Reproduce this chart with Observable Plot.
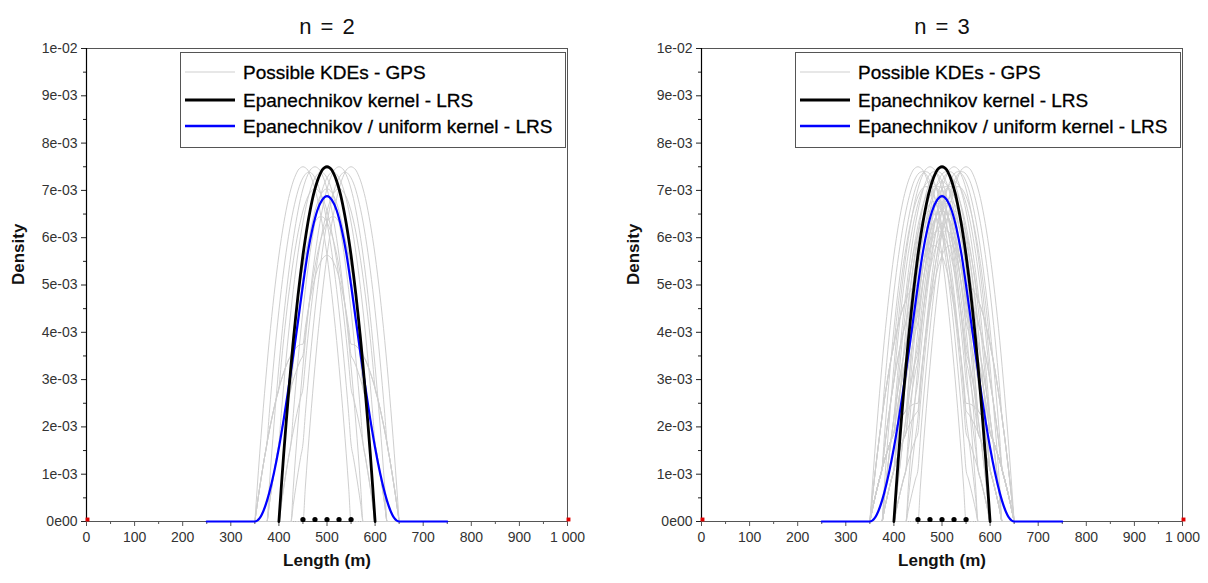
<!DOCTYPE html>
<html>
<head>
<meta charset="utf-8">
<script src="https://cdn.jsdelivr.net/npm/d3@7"></script>
<script src="https://cdn.jsdelivr.net/npm/@observablehq/plot@0.6"></script>
<style>
  html, body { margin: 0; padding: 0; background: #fff; }
  #wrap { display: flex; width: 1208px; height: 583px; }
  svg { font-family: "Liberation Sans", Arial, sans-serif; }
</style>
</head>
<body>
<div id="wrap"></div>
<script>
// ---- data ----
// GPS positions (black dots on the baseline), metres
const gpsPositions = [450, 475, 500, 525, 550];
// LRS length
const lrsLength = 500;
// Epanechnikov kernel profile (black curve), density vs |offset| from centre, offsets 0..100 step 5
const kernelOffsets = [0, 5, 10, 15, 20, 25, 30, 35, 40, 45, 50, 55, 60, 65, 70, 75, 80, 85, 90, 95, 100];
const kernelDensity = [7.50e-3, 7.48e-3, 7.43e-3, 7.33e-3, 7.20e-3, 7.03e-3, 6.83e-3, 6.58e-3, 6.30e-3, 5.98e-3,
                       5.63e-3, 5.23e-3, 4.80e-3, 4.33e-3, 3.83e-3, 3.28e-3, 2.70e-3, 2.08e-3, 1.43e-3, 0.73e-3, 0];
// Epanechnikov / uniform kernel profile (blue curve), offsets 0..150 step 10
const blueOffsets = [0, 10, 20, 30, 40, 50, 60, 70, 80, 90, 100, 110, 120, 130, 140, 150];
const blueDensity = [6.88e-3, 6.80e-3, 6.58e-3, 6.20e-3, 5.68e-3, 5.00e-3, 4.25e-3, 3.52e-3, 2.82e-3, 2.16e-3,
                     1.56e-3, 1.04e-3, 0.61e-3, 0.28e-3, 0.07e-3, 0];
const blueRange = [250, 750];
// panels
const panelN = [2, 3];
// axis ticks
const xTicks = [0, 100, 200, 300, 400, 500, 600, 700, 800, 900, 1000];
const xTickLabels = ["0", "100", "200", "300", "400", "500", "600", "700", "800", "900", "1 000"];
const xMinorTicks = [50, 150, 250, 350, 450, 550, 650, 750, 850, 950];
const yTicks = [0, 0.001, 0.002, 0.003, 0.004, 0.005, 0.006, 0.007, 0.008, 0.009, 0.01];
const yTickLabels = ["0e00", "1e-03", "2e-03", "3e-03", "4e-03", "5e-03", "6e-03", "7e-03", "8e-03", "9e-03", "1e-02"];
const yMinorTicks = [0.0005, 0.0015, 0.0025, 0.0035, 0.0045, 0.0055, 0.0065, 0.0075, 0.0085, 0.0095];
const legendLabels = ["Possible KDEs - GPS", "Epanechnikov kernel - LRS", "Epanechnikov / uniform kernel - LRS"];
const seriesColors = ["#cfcfcf", "#000000", "#0000ff"];

// ---- tables built from the arrays ----
const kernelAt = d => { const i = kernelOffsets.indexOf(Math.abs(d)); return i < 0 ? 0 : kernelDensity[i]; };
const blackCurve = [];
for (let i = kernelOffsets.length - 1; i >= 0; i--) blackCurve.push({x: lrsLength - kernelOffsets[i], y: kernelDensity[i]});
for (let i = 1; i < kernelOffsets.length; i++) blackCurve.push({x: lrsLength + kernelOffsets[i], y: kernelDensity[i]});
const blueCurve = [{x: blueRange[0], y: 0}];
for (let i = blueOffsets.length - 1; i >= 0; i--) blueCurve.push({x: lrsLength - blueOffsets[i], y: blueDensity[i]});
for (let i = 1; i < blueOffsets.length; i++) blueCurve.push({x: lrsLength + blueOffsets[i], y: blueDensity[i]});
blueCurve.push({x: blueRange[1], y: 0});

function combos(n, start = 0) {
  if (n === 0) return [[]];
  const out = [];
  for (let i = start; i < gpsPositions.length; i++)
    for (const rest of combos(n - 1, i)) out.push([gpsPositions[i], ...rest]);
  return out;
}
function grayCurves(n) {
  const rows = [];
  const lo = d3.min(gpsPositions) - 100, hi = d3.max(gpsPositions) + 100;
  combos(n).forEach((sample, k) => {
    for (let x = lo; x <= hi; x += 5) {
      rows.push({k, x, y: d3.mean(sample, p => kernelAt(x - p))});
    }
  });
  return rows;
}

const panelWidths = [615, 593];
const panelMarginRight = [48, 26];
const wrap = document.getElementById("wrap");

panelN.forEach((n, pi) => {
  const W = panelWidths[pi];
  const plot = Plot.plot({
    width: W, height: 583,
    marginTop: 48, marginBottom: 62, marginLeft: 86, marginRight: panelMarginRight[pi],
    style: {fontFamily: "'Liberation Sans', Arial, sans-serif", fontSize: "14px", color: "#333", background: "#fff", overflow: "visible"},
    x: {domain: [0, 1000], axis: null},
    y: {domain: [0, 0.01], axis: null},
    marks: [
      Plot.frame({stroke: "#555", strokeWidth: 1}),
      Plot.axisX({ticks: xTicks, tickSize: 5, tickPadding: 6, tickFormat: d => xTickLabels[xTicks.indexOf(d)], label: null, stroke: "#555", fill: "#333"}),
      Plot.axisX({ticks: xMinorTicks, tickSize: 3, tickFormat: () => "", label: null, stroke: "#555"}),
      Plot.axisY({ticks: yTicks, tickSize: 5, tickPadding: 4, tickFormat: d => yTickLabels[yTicks.indexOf(d)], label: null, stroke: "#222", fill: "#333"}),
      Plot.axisY({ticks: yMinorTicks, tickSize: 3, tickFormat: () => "", label: null, stroke: "#222"}),
      Plot.ruleX([0], {stroke: "#000", strokeWidth: 1.2}),
      Plot.line(grayCurves(n), {x: "x", y: "y", z: "k", stroke: seriesColors[0], strokeWidth: 1, curve: "monotone-x"}),
      Plot.line(blueCurve, {x: "x", y: "y", stroke: seriesColors[2], strokeWidth: 2.2, curve: "monotone-x"}),
      Plot.line(blackCurve, {x: "x", y: "y", stroke: seriesColors[1], strokeWidth: 2.8, curve: "monotone-x"}),
      Plot.dot(gpsPositions, {x: d => d, y: () => 0, r: 2.6, fill: "#000", stroke: "none", dy: -2}),
      Plot.dot([0, 1000], {x: d => d, y: () => 0, r: 2.2, symbol: "square", fill: "#e00000", stroke: "none", dy: -2, dx: 1}),
      Plot.text([`n = ${n}`], {frameAnchor: "top", dy: -30, fontSize: 22, fill: "#111"}),
      Plot.text(["Length (m)"], {frameAnchor: "bottom", dy: 44, fontSize: 17, fontWeight: "bold", fill: "#111"}),
      Plot.text(["Density"], {frameAnchor: "left", dx: -68, rotate: -90, fontSize: 17, fontWeight: "bold", fill: "#111"})
    ]
  });
  wrap.appendChild(plot);
  d3.select(plot).selectAll("text").filter(function() { return this.textContent.startsWith("n = "); })
    .style("word-spacing", "3px");

  // legend box (upper right of the frame)
  const svg = d3.select(plot);
  const L = 86 + 94, T = 52, Wb = 385, Hb = 95;
  const g = svg.append("g").attr("text-anchor", "start");
  g.append("rect").attr("x", L + 0.5).attr("y", T + 0.5).attr("width", Wb).attr("height", Hb)
    .attr("fill", "#fff").attr("stroke", "#555").attr("stroke-width", 1);
  const rows = [72, 100, 126];
  legendLabels.forEach((lab, i) => {
    g.append("line").attr("x1", L + 5).attr("x2", L + 55).attr("y1", rows[i]).attr("y2", rows[i])
      .attr("stroke", seriesColors[i]).attr("stroke-width", i === 0 ? 1 : (i === 1 ? 2.8 : 2.4));
    g.append("text").attr("x", L + 63).attr("y", rows[i]).attr("dy", "0.35em")
      .attr("text-anchor", "start").attr("font-size", 19).attr("fill", "#000")
      .attr("stroke", "#000").attr("stroke-width", 0.3).text(lab);
  });
});
</script>
</body>
</html>
